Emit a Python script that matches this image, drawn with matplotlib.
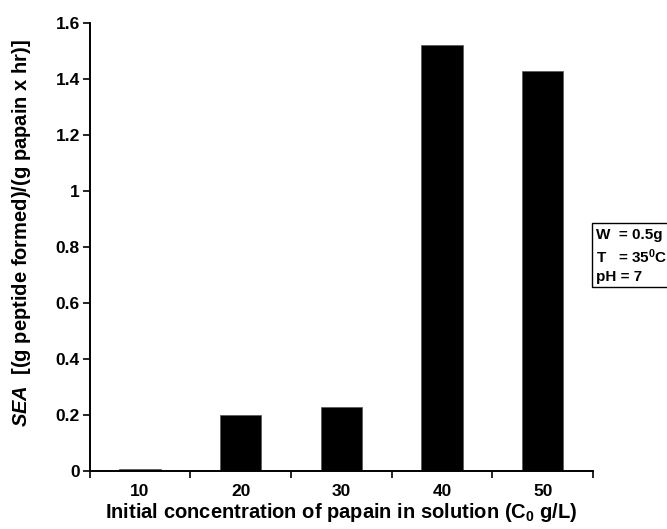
import matplotlib
matplotlib.use("Agg")
import matplotlib.pyplot as plt
from matplotlib.patches import Rectangle
import numpy as np

plt.rcParams["font.family"] = ["Liberation Sans", "DejaVu Sans"]
plt.rcParams["font.weight"] = "bold"
plt.rcParams["mathtext.fontset"] = "custom"
plt.rcParams["mathtext.rm"] = "Liberation Sans:bold"
plt.rcParams["mathtext.it"] = "Liberation Sans:italic:bold"
plt.rcParams["mathtext.bf"] = "Liberation Sans:bold"

conc = ["10", "20", "30", "40", "50"]
sea = [0.006, 0.20, 0.23, 1.52, 1.43]
yticks = [0, 0.2, 0.4, 0.6, 0.8, 1, 1.2, 1.4, 1.6]
ytick_labels = ["0", "0.2", "0.4", "0.6", "0.8", "1", "1.2", "1.4", "1.6"]

fig = plt.figure(figsize=(6.67, 5.29), dpi=100)
ax = fig.add_axes([0.1342, 0.1096, 0.7549, 0.8469])

x = np.arange(len(conc))
ax.bar(x, sea, width=0.41, color="black", edgecolor="#555555", linewidth=0.5)

ax.set_xlim(-0.5, len(conc) - 0.5)
ax.set_ylim(0, 1.6)
ax.set_yticks(yticks)
ax.set_yticklabels(ytick_labels)
ax.set_xticks(x)
ax.set_xticklabels(conc)
ax.set_xticks(np.arange(len(conc) + 1) - 0.5, minor=True)
ax.tick_params(axis="x", which="major", length=0, pad=9, labelsize=12.5)
ax.tick_params(axis="x", which="minor", length=5, width=1.2, direction="out")
ax.tick_params(axis="y", length=5, width=1.2, direction="out", labelsize=12.5, pad=2)

for side in ["top", "right"]:
    ax.spines[side].set_visible(False)
for side in ["left", "bottom"]:
    ax.spines[side].set_linewidth(1.4)

ax.set_xlabel(r"Initial concentration of papain in solution (C$_{0}$ g/L)",
              fontsize=14.5, fontweight="bold", labelpad=2)
ax.set_ylabel(r"$SEA$  [(g peptide formed)/(g papain x hr)]",
              fontsize=14.5, fontweight="bold")
ax.yaxis.set_label_coords(-0.112, 0.53)

# condition box at the right edge, running off the figure
fig.patches.append(Rectangle((592 / 667, 1 - 287 / 529), 0.2, 64 / 529,
                             transform=fig.transFigure, facecolor="white",
                             edgecolor="black", linewidth=1.0, clip_on=False))
fig.text(596 / 667, 1 - 256 / 529, "W  = 0.5g\nT   = 35$^{0}$C\npH = 7",
         fontsize=11, fontweight="bold", va="center", ha="left",
         linespacing=1.35)

fig.savefig("out.png", dpi=100)
